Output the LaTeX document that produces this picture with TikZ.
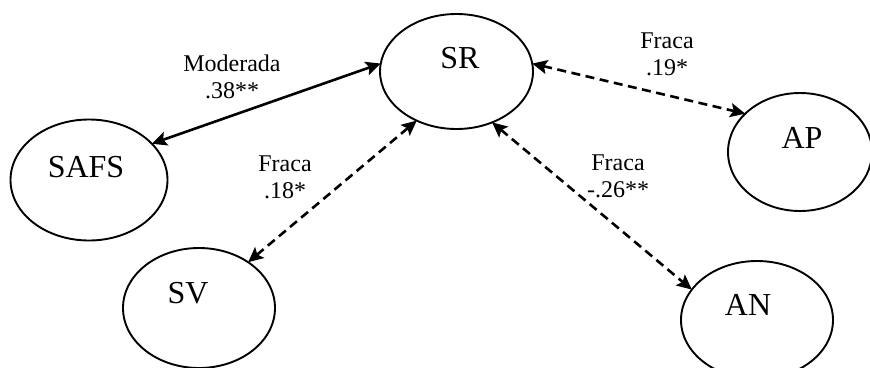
\documentclass[tikz,border=0pt]{standalone}
\usepackage{fontspec}
\setmainfont{Liberation Serif}
\usetikzlibrary{shapes.geometric,arrows.meta}
\tikzset{
  construct/.style={ellipse, draw, line width=1.9pt, inner sep=0pt, outer sep=0pt},
  cname/.style={font=\fontsize{32}{38}\selectfont, inner sep=0pt},
  corrlabel/.style={font=\fontsize{24}{27}\selectfont, align=center, inner sep=0pt},
  corr/.style={line width=2.6pt, {Stealth[length=15pt,width=14pt,inset=3pt]}-{Stealth[length=15pt,width=14pt,inset=3pt]}},
  weak/.style={corr, dash pattern=on 9pt off 5.5pt}
}
\begin{document}
\begin{tikzpicture}[x=1pt,y=-1pt]
  \useasboundingbox (0,0) rectangle (870,367);
  % latent constructs
  \node[construct, minimum width=153pt, minimum height=115pt] (SR) at (456.5,71.5) {};
  \node[construct, minimum width=157pt, minimum height=121pt] (SAFS) at (89,180) {};
  \node[construct, minimum width=152pt, minimum height=120pt] (SV) at (199,308) {};
  \node[construct, minimum width=144pt, minimum height=118pt] (AP) at (800,152) {};
  \node[construct, minimum width=152pt, minimum height=118pt] (AN) at (757,320) {};
  % construct names
  \node[cname] (SRt) at (460,58) {SR};
  \node[cname] (SAFSt) at (86,167) {SAFS};
  \node[cname] (SVt) at (188,293) {SV};
  \node[cname] (APt) at (802,138) {AP};
  \node[cname] (ANt) at (748,305) {AN};
  % correlations
  \draw[corr] (SAFS.30) -- (SR.174);
  \draw[weak] (SV.43) -- (SR.231);
  \draw[weak] (SR.6) -- (AP.145);
  \draw[weak] (SR.305) -- (AN.155);
  % correlation labels
  \node[corrlabel] (l1) at (232,77) {Moderada\\.38**};
  \node[corrlabel] (l2) at (285,177) {Fraca\\.18*};
  \node[corrlabel] (l3) at (667,54) {Fraca\\.19*};
  \node[corrlabel] (l4) at (618,176) {Fraca\\-.26**};
\end{tikzpicture}
\end{document}
